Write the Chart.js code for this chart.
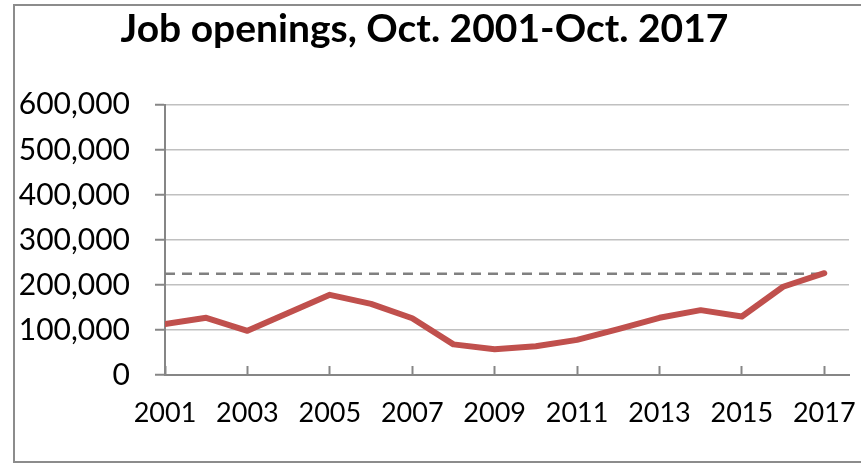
<!DOCTYPE html>
<html lang="en">
<head>
  <meta charset="UTF-8" />
  <title>Job openings, Oct. 2001-Oct. 2017</title>
  <script src="https://cdn.jsdelivr.net/npm/chart.js"></script>
  <style>
    body {
      margin: 0;
      background: #fff;
      overflow: hidden;
    }
    #frame {
      position: absolute;
      left: 13px;
      top: 4px;
      width: 1000px;
      height: 459px;
      border: 2px solid #8c8c8c;
      box-sizing: border-box;
    }
    #wrap {
      position: absolute;
      left: 0;
      top: 0;
      width: 861px;
      height: 466px;
    }
  </style>
</head>
<body>
  <div id="frame"></div>
  <div id="wrap"><canvas id="jobsChart"></canvas></div>

  <script>
    // data
    const years = [2001, 2002, 2003, 2004, 2005, 2006, 2007, 2008, 2009,
                   2010, 2011, 2012, 2013, 2014, 2015, 2016, 2017];
    const openings = [113000, 127000, 98000, 138000, 178000, 158000, 126000, 68000, 57000,
                      64000, 78000, 102000, 127000, 144000, 130000, 196000, 226000];
    const xTickYears = [2001, 2003, 2005, 2007, 2009, 2011, 2013, 2015, 2017];
    const yTicks = [0, 100000, 200000, 300000, 400000, 500000, 600000];
    const refYears = [2001, 2017];
    const refValue = 225000;

    const axisGray = '#868686';

    const ctx = document.getElementById('jobsChart').getContext('2d');
    new Chart(ctx, {
      type: 'line',
      data: {
        datasets: [
          {
            label: 'Job openings',
            data: years.map((y, i) => ({ x: y, y: openings[i] })),
            borderColor: '#C0504D',
            borderWidth: 6,
            borderCapStyle: 'round',
            borderJoinStyle: 'round',
            pointRadius: 0,
            tension: 0,
            fill: false
          },
          {
            label: 'Oct. 2017 level',
            data: refYears.map(y => ({ x: y, y: refValue })),
            borderColor: '#808080',
            borderWidth: 2.5,
            borderDash: [10, 7],
            pointRadius: 0,
            fill: false
          }
        ]
      },
      options: {
        responsive: true,
        maintainAspectRatio: false,
        animation: false,
        layout: { padding: { left: 0, right: 12, top: 0, bottom: 0 } },
        plugins: {
          legend: { display: false },
          tooltip: { enabled: false },
          title: {
            display: true,
            text: 'Job openings, Oct. 2001-Oct. 2017',
            color: '#000',
            font: { family: 'Lato', size: 39, weight: 'bold', lineHeight: 1.2 },
            padding: { top: 6, bottom: 52 }
          }
        },
        scales: {
          x: {
            type: 'linear',
            min: 2001,
            max: 2017.6,
            afterBuildTicks: scale => {
              scale.ticks = xTickYears.map(v => ({ value: v }));
            },
            afterFit: scale => {
              scale.height = 91;
              scale.paddingLeft = 0;
              scale.paddingRight = 0;
            },
            grid: {
              drawOnChartArea: false,
              drawTicks: true,
              tickLength: -9,
              tickColor: axisGray,
              tickWidth: 2
            },
            border: { color: axisGray, width: 2 },
            ticks: {
              color: '#000',
              font: { family: 'Lato', size: 27 },
              padding: 31,
              maxRotation: 0,
              autoSkip: false,
              callback: v => String(v)
            }
          },
          y: {
            min: 0,
            max: 600000,
            afterBuildTicks: scale => {
              scale.ticks = yTicks.map(v => ({ value: v }));
            },
            afterFit: scale => { scale.width = 165; },
            grid: {
              color: '#c0c0c0',
              lineWidth: 1.5,
              drawTicks: true,
              tickLength: 10,
              tickColor: axisGray,
              tickWidth: 2
            },
            border: { color: axisGray, width: 2 },
            ticks: {
              color: '#000',
              font: { family: 'Lato', size: 30 },
              padding: 25,
              callback: v => v.toLocaleString('en-US')
            }
          }
        }
      }
    });
  </script>
</body>
</html>
